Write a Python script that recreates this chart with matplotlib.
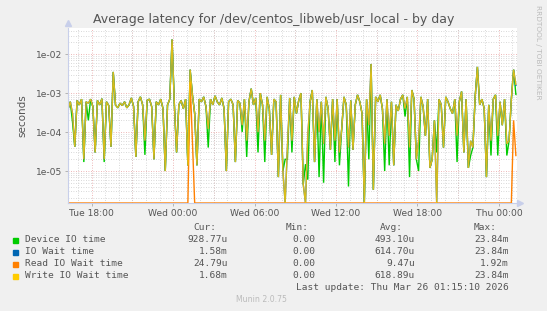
import numpy as np
import pandas as pd
import matplotlib
matplotlib.use('Agg')
import matplotlib.pyplot as plt
import matplotlib.dates as mdates
from matplotlib.patches import Rectangle

# 10 minute samples, Tue 24 Mar 16:15 -> Thu 26 Mar 01:15 (values in microseconds)
times = pd.date_range('2026-03-24 16:15', periods=199, freq='10min')

device_io_us = [
    380, 600, 180, 42, 650, 500, 700, 17, 600, 200,
    700, 450, 30, 650, 500, 720, 17, 600, 480, 42,
    3500, 500, 420, 550, 480, 600, 420, 500, 750, 450,
    23, 600, 800, 500, 26, 650, 700, 450, 20, 600,
    500, 700, 400, 10, 500, 700, 23840, 550, 30, 500,
    650, 400, 700, 14, 4000, 900, 300, 14, 700, 600,
    800, 450, 40, 700, 500, 850, 600, 500, 750, 400,
    10, 600, 700, 500, 17, 650, 550, 100, 700, 23,
    600, 1300, 500, 750, 30, 1000, 500, 17, 800, 400,
    26, 700, 600, 7, 900, 10, 20, 20, 750, 30,
    800, 300, 650, 1000, 4.5, 15, 6, 600, 1200, 17,
    700, 7, 600, 5, 800, 400, 35, 700, 17, 700,
    14, 120, 800, 500, 4, 650, 35, 500, 900, 600,
    300, 1, 700, 20, 5600, 3.3, 800, 600, 900, 400,
    10, 700, 14, 600, 14, 500, 350, 700, 900, 250,
    800, 7, 1200, 700, 20, 10, 800, 450, 80, 700,
    12, 20, 200, 30, 700, 500, 40, 800, 600, 400,
    300, 700, 17, 600, 1100, 30, 700, 12, 25, 40,
    800, 4700, 500, 700, 400, 7, 500, 25, 700, 900,
    25, 600, 150, 700, 25, 60, 700, 4000, 929,
]

io_wait_us = [
    380, 600, 300, 42, 650, 500, 700, 20, 600, 550,
    700, 450, 30, 650, 500, 720, 20, 600, 480, 42,
    3500, 500, 420, 550, 480, 600, 420, 500, 750, 450,
    23, 600, 800, 500, 60, 650, 700, 450, 20, 600,
    500, 700, 400, 10, 500, 700, 23840, 550, 30, 500,
    650, 400, 700, 14, 4000, 900, 300, 14, 700, 600,
    800, 450, 120, 700, 500, 850, 600, 500, 750, 400,
    10, 600, 700, 500, 17, 650, 550, 150, 700, 60,
    600, 1300, 500, 750, 100, 1000, 500, 60, 800, 400,
    26, 700, 600, 7, 900, 10, 1, 40, 750, 60,
    800, 300, 650, 1000, 4.5, 1, 80, 600, 1200, 17,
    700, 100, 600, 50, 800, 400, 35, 700, 60, 700,
    30, 120, 800, 500, 40, 650, 35, 500, 900, 600,
    300, 1, 700, 150, 5600, 3.3, 800, 600, 900, 400,
    50, 700, 80, 600, 14, 500, 350, 700, 900, 400,
    800, 40, 1200, 700, 20, 60, 800, 450, 80, 700,
    12, 20, 200, 1, 700, 500, 40, 800, 600, 400,
    300, 700, 80, 600, 1100, 30, 700, 12, 60, 40,
    800, 4700, 500, 700, 400, 7, 500, 60, 700, 900,
    80, 600, 150, 700, 50, 60, 700, 4000, 1580,
]

read_wait_us = [
    0, 0, 0, 0, 0, 0, 0, 0, 0, 0,
    0, 0, 0, 0, 0, 0, 0, 0, 0, 0,
    0, 0, 0, 0, 0, 0, 0, 0, 0, 0,
    0, 0, 0, 0, 0, 0, 0, 0, 0, 0,
    0, 0, 0, 0, 0, 0, 0, 0, 0, 0,
    0, 0, 0, 0, 1920, 60, 0, 0, 0, 0,
    0, 0, 0, 0, 0, 0, 0, 0, 0, 0,
    0, 0, 0, 0, 0, 0, 0, 0, 0, 0,
    0, 0, 0, 0, 0, 0, 0, 0, 0, 0,
    0, 0, 0, 0, 0, 0, 0, 0, 0, 0,
    0, 0, 0, 0, 0, 0, 0, 0, 0, 0,
    0, 0, 0, 0, 0, 0, 0, 0, 0, 0,
    0, 0, 0, 0, 0, 0, 0, 0, 0, 0,
    0, 0, 0, 0, 0, 0, 0, 0, 0, 0,
    0, 0, 0, 0, 0, 0, 0, 0, 0, 0,
    0, 0, 0, 0, 0, 0, 0, 0, 0, 0,
    0, 0, 0, 0, 0, 0, 0, 0, 0, 0,
    0, 0, 0, 0, 0, 0, 0, 0, 0, 0,
    0, 0, 0, 0, 0, 0, 0, 0, 0, 0,
    0, 0, 0, 0, 0, 0, 0, 200, 25,
]

write_wait_us = [
    380, 600, 300, 42, 650, 500, 700, 20, 600, 550,
    700, 450, 30, 650, 500, 720, 20, 600, 480, 42,
    3500, 500, 420, 550, 480, 600, 420, 500, 750, 450,
    23, 600, 800, 500, 60, 650, 700, 450, 20, 600,
    500, 700, 400, 10, 500, 700, 23840, 550, 30, 500,
    650, 400, 700, 14, 4000, 900, 300, 14, 700, 600,
    800, 450, 120, 700, 500, 850, 600, 500, 750, 400,
    10, 600, 700, 500, 17, 650, 550, 150, 700, 60,
    600, 1300, 500, 750, 100, 1000, 500, 60, 800, 400,
    26, 700, 600, 7, 900, 10, 1, 40, 750, 60,
    800, 300, 650, 1000, 4.5, 1, 80, 600, 1200, 17,
    700, 100, 600, 50, 800, 400, 35, 700, 60, 700,
    30, 120, 800, 500, 40, 650, 35, 500, 900, 600,
    300, 1, 700, 150, 5600, 3.3, 800, 600, 900, 400,
    50, 700, 80, 600, 14, 500, 350, 700, 900, 400,
    800, 40, 1200, 700, 20, 60, 800, 450, 80, 700,
    12, 20, 200, 1, 700, 500, 40, 800, 600, 400,
    300, 700, 80, 600, 1100, 30, 700, 12, 60, 40,
    800, 4700, 500, 700, 400, 7, 500, 60, 700, 900,
    80, 600, 150, 700, 50, 60, 700, 4000, 1680,
]

series_names = ['Device IO time', 'IO Wait time', 'Read IO Wait time', 'Write IO Wait time']
series_colors = ['#00CC00', '#0066B3', '#FF8000', '#FFCC00']
series_alpha = [1.0, 1.0, 1.0, 0.85]
cur_vals = ['928.77u', '1.58m', '24.79u', '1.68m']
min_vals = ['0.00', '0.00', '0.00', '0.00']
avg_vals = ['493.10u', '614.70u', '9.47u', '618.89u']
max_vals = ['23.84m', '23.84m', '1.92m', '23.84m']

W, H = 547, 311
y_min, y_max = 1.51e-6, 4.7e-2
text_col = '#555555'

fig = plt.figure(figsize=(W / 100, H / 100), dpi=100, facecolor='#F0F0F0')
ax = fig.add_axes([68 / W, (H - 203) / H, 449 / W, 175 / H])
ax.set_facecolor('white')

all_series = [device_io_us, io_wait_us, read_wait_us, write_wait_us]
for vals, col, a in zip(all_series, series_colors, series_alpha):
    v = np.array(vals, dtype=float) * 1e-6
    # rrdtool puts zeros on the bottom edge of a log graph
    v = np.maximum(v, y_min)
    ax.plot(times, v, color=col, lw=1.0, alpha=a, solid_joinstyle='miter')

ax.set_yscale('log')
ax.set_ylim(y_min, y_max)
ax.set_xlim(pd.Timestamp('2026-03-24 16:15'), pd.Timestamp('2026-03-26 01:20'))

ax.xaxis.set_major_locator(mdates.HourLocator(byhour=[0, 6, 12, 18]))
ax.xaxis.set_major_formatter(mdates.DateFormatter('%a %H:%M'))
ax.xaxis.set_minor_locator(mdates.HourLocator())
ax.yaxis.set_major_locator(matplotlib.ticker.LogLocator(base=10))
ax.yaxis.set_major_formatter(matplotlib.ticker.FuncFormatter(
    lambda v, p: '%.0e' % v))
ax.yaxis.set_minor_locator(matplotlib.ticker.LogLocator(base=10, subs=np.arange(2, 10)))
ax.yaxis.set_minor_formatter(matplotlib.ticker.NullFormatter())

dot = (0, (1, 2))
ax.grid(which='minor', color='#CCCCCC', lw=0.6, ls=dot)
ax.grid(which='major', axis='y', color='#E8A0A0', lw=0.6, ls=dot)
for h in pd.date_range('2026-03-24 18:00', '2026-03-26 00:00', freq='3h'):
    ax.axvline(h, color='#E8A0A0', lw=0.6, ls=dot, zorder=0.5)
ax.set_axisbelow(True)

ax.tick_params(which='both', length=2, width=0.6, color='#AAAAAA',
               labelsize=6.6, labelcolor=text_col, pad=2)
ax.tick_params(which='minor', length=0)
for s in ['top', 'right']:
    ax.spines[s].set_visible(False)
for s in ['left', 'bottom']:
    ax.spines[s].set_color('#C8CFEA')
    ax.spines[s].set_linewidth(0.8)
ax.plot([0], [1.03], marker='^', ms=4, color='#C8CFEA', transform=ax.transAxes, clip_on=False)
ax.plot([1.007], [0], marker='>', ms=4, color='#C8CFEA', transform=ax.transAxes, clip_on=False)

ax.set_ylabel('seconds', fontsize=7.5, color=text_col, labelpad=6)

def ftext(x, y, s, **kw):
    fig.text(x / W, 1 - y / H, s, **kw)

ftext(W / 2, 19, 'Average latency for /dev/centos_libweb/usr_local - by day',
      ha='center', va='center', fontsize=9.0, color=text_col)
ftext(538, 5, 'RRDTOOL / TOBI OETIKER', rotation=270, ha='center', va='top',
      fontsize=5.3, color='#BBBBBB')

mono = dict(family='DejaVu Sans Mono', fontsize=6.8, color=text_col, va='center')
ftext(216, 227, 'Cur:', ha='right', **mono)
ftext(309, 227, 'Min:', ha='right', **mono)
ftext(403, 227, 'Avg:', ha='right', **mono)
ftext(497, 227, 'Max:', ha='right', **mono)
for k, name in enumerate(series_names):
    y = 240 + k * 12
    fig.add_artist(Rectangle((13 / W, 1 - (y + 2.5) / H), 5 / W, 5 / H,
                             transform=fig.transFigure, color=series_colors[k]))
    ftext(25, y, name, ha='left', **mono)
    ftext(228, y, cur_vals[k], ha='right', **mono)
    ftext(315, y, min_vals[k], ha='right', **mono)
    ftext(415, y, avg_vals[k], ha='right', **mono)
    ftext(509, y, max_vals[k], ha='right', **mono)
ftext(509, 288, 'Last update: Thu Mar 26 01:15:10 2026', ha='right', **mono)
ftext(261, 300, 'Munin 2.0.75', ha='center', va='center', fontsize=5.6, color='#BBBBBB')

fig.savefig('out.png', dpi=100, facecolor=fig.get_facecolor())
